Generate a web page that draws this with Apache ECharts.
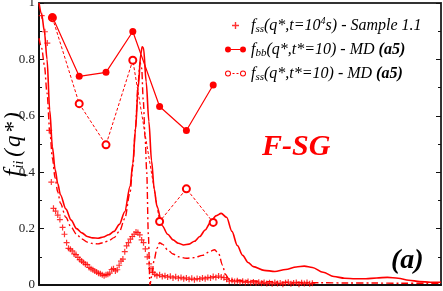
<!DOCTYPE html>
<html><head><meta charset="utf-8">
<script src="https://cdn.jsdelivr.net/npm/echarts@6/dist/echarts.min.js"></script>
<style>html,body{margin:0;padding:0;background:#fff}#c{width:443px;height:291px}</style>
</head><body><div id="c"></div>
<script>
// y-axis ticks
const yMin = 0, yMax = 1, yStep = 0.2;
const xMin = 0, xMax = 15;

// experimental f_ss (crosses)
const plusQ = [0.10,0.22,0.31,0.38,0.46,0.54,0.62,0.70,0.78,0.88,0.95,1.03,1.10,1.17,1.24,1.31,1.38,1.45,1.52,1.59,1.66,1.73,1.80,1.87,1.94,2.01,2.08,2.15,2.22,2.29,2.36,2.43,2.50,2.57,2.64,2.71,2.78,2.85,2.92,2.99,3.06,3.13,3.20,3.27,3.34,3.41,3.48,3.55,3.62,3.69,3.76,3.83,3.90,3.97,4.04,4.11,4.18,4.25,4.32,
  4.4,4.5,4.6,4.7,4.8,4.9,5.0,5.1,5.2,5.3,5.4,5.5,5.6,5.7,5.8,5.9,6.0,6.1,6.2,6.3,6.4,6.5,6.6,6.7,6.8,6.9,7.0,7.1,7.2,7.3,7.4,7.5,7.6,7.7,7.8,7.9,8.0,8.1,8.2,8.3,8.4,8.5,8.6,8.7,8.8,8.9,9.0,9.1,9.2,9.3,9.4,9.5,9.6,9.7,9.8,9.9,10.0,10.1,10.2];
const plusV = [0.955,0.898,0.858,0.548,0.365,0.272,0.262,0.248,0.232,0.204,0.180,0.150,0.130,0.127,0.121,0.110,0.108,0.098,0.090,0.085,0.080,0.074,0.072,0.062,0.058,0.054,0.050,0.046,0.042,0.040,0.036,0.033,0.036,0.038,0.042,0.055,0.058,0.050,0.054,0.070,0.085,0.092,0.118,0.139,0.150,0.163,0.172,0.180,0.188,0.186,0.178,0.160,0.150,0.128,0.100,0.075,0.058,0.045,0.038,
  0.033,0.036,0.030,0.033,0.028,0.031,0.025,0.029,0.024,0.027,0.022,0.025,0.020,0.024,0.019,0.023,0.021,0.025,0.022,0.027,0.025,0.030,0.027,0.032,0.028,0.026,0.020,0.014,0.016,0.012,0.015,0.011,0.013,0.009,0.012,0.008,0.011,0.007,0.010,0.006,0.009,0.005,0.008,0.004,0.009,0.005,0.007,0.003,0.008,0.010,0.004,0.007,0.009,0.003,0.008,0.005,0.009,0.004,0.006];

// MD points
const mdQ = [0.5,1.5,2.5,3.5,4.5,5.5,6.5];
const fbbV = [0.951,0.740,0.754,0.899,0.633,0.548,0.709];
const fssV = [0.948,0.643,0.497,0.797,0.225,0.341,0.222];

// solid theory curve
const solidQ = [0,0.1,0.2,0.3,0.4,0.5,0.6,0.7,0.8,1.0,1.2,1.4,1.6,1.8,2.0,2.2,2.4,2.6,2.8,3.0,3.2,3.4,3.5,3.6,3.7,3.8,3.85,3.9,4.0,4.1,4.2,4.3,4.4,4.6,4.8,5.0,5.2,5.4,5.6,5.8,6.0,6.2,6.4,6.6,6.8,7.0,7.2,7.4,7.6,7.8,8.0,8.4,8.8,9.2,9.6,9.9,10.2,10.6,11.0,11.4,11.8,12.2,12.6,13.0,13.4,13.8,14.2,14.6,15.0];
const solidV = [1.0,0.96,0.90,0.80,0.62,0.49,0.41,0.36,0.32,0.27,0.23,0.20,0.185,0.172,0.167,0.166,0.170,0.178,0.19,0.215,0.26,0.35,0.43,0.55,0.70,0.82,0.845,0.84,0.72,0.58,0.44,0.34,0.28,0.21,0.18,0.16,0.148,0.142,0.145,0.155,0.172,0.195,0.222,0.245,0.254,0.24,0.19,0.14,0.105,0.08,0.065,0.052,0.048,0.055,0.064,0.067,0.062,0.045,0.030,0.024,0.022,0.022,0.025,0.027,0.024,0.017,0.012,0.010,0.010];

// dash-dot theory curve
const dashQ = [0,0.1,0.2,0.3,0.4,0.5,0.6,0.7,0.8,1.0,1.2,1.4,1.6,1.8,2.0,2.2,2.4,2.6,2.8,3.0,3.2,3.4,3.5,3.6,3.7,3.77,3.83,3.89,3.96,4.02,4.08,4.14,4.2,4.3,4.4,4.5,4.6,4.8,5.0,5.2,5.5,5.8,6.1,6.4,6.55,6.7,6.85,6.95,7.1,7.6,8.5,9.5,10.5,11.5,12.5,13.5,14.5,15];
const dashV = [0.875,0.84,0.78,0.68,0.55,0.45,0.38,0.33,0.29,0.24,0.205,0.18,0.163,0.152,0.147,0.146,0.15,0.157,0.168,0.19,0.235,0.33,0.42,0.56,0.72,0.79,0.77,0.655,0.52,0.40,0.18,0.0,0.03,0.09,0.13,0.15,0.145,0.125,0.11,0.10,0.095,0.097,0.105,0.12,0.125,0.112,0.07,0.038,0.02,0.016,0.012,0.009,0.008,0.007,0.007,0.006,0.006,0.006];

const zip = (a, b) => a.map((x, i) => [x, b[i]]);
const RED = '#ff0000';
const SERIF = 'Liberation Serif';
const PLUS = 'path://M2,0H3V2H5V3H3V5H2V3H0V2H2Z';
const ICON_FILLED = 'path://M0,3.5A3,3 0 1 1 6,3.5A3,3 0 1 1 0,3.5ZM15,3.5A3,3 0 1 1 21,3.5A3,3 0 1 1 15,3.5ZM6,3H15V4H6Z';
const ICON_OPEN = 'path://M0,3.5A3,3 0 1 1 6,3.5A3,3 0 1 1 0,3.5ZM1,3.5A2,2 0 1 0 5,3.5A2,2 0 1 0 1,3.5ZM15,3.5A3,3 0 1 1 21,3.5A3,3 0 1 1 15,3.5ZM16,3.5A2,2 0 1 0 20,3.5A2,2 0 1 0 16,3.5ZM7.5,3H9.5V4H7.5ZM11.5,3H13.5V4H11.5Z';

const legendText = {
  exp: '{i|f}{sub|ss}{i|(q*,t=10}{sup|4}{i|s) - Sample 1.1}',
  fbb: '{i|f}{sub|bb}{i|(q*,t*=10) - MD }{b|(a5)}',
  fss: '{i|f}{sub|ss}{i|(q*,t*=10) - MD }{b|(a5)}'
};

const chart = echarts.init(document.getElementById('c'), null, {renderer: 'canvas'});
const axisCol = '#111';
chart.setOption({
  animation: false,
  backgroundColor: '#fff',
  grid: {left: 39, right: 2, top: 3, bottom: 6, containLabel: false, outerBoundsMode: 'none'},
  title: [
    {text: 'F-SG', left: 262, top: 132, padding: 0,
     textStyle: {fontFamily: SERIF, fontStyle: 'italic', fontWeight: 'bold', fontSize: 30, color: RED}},
    {text: '(a)', left: 391, top: 247, padding: 0,
     textStyle: {fontFamily: SERIF, fontStyle: 'italic', fontWeight: 'bold', fontSize: 28, color: '#000'}}
  ],
  legend: {
    orient: 'vertical', left: 225, top: 16, padding: 0, itemGap: 7,
    itemWidth: 21, itemHeight: 7, selectedMode: false,
    data: [
      {name: 'exp', icon: PLUS, itemStyle: {color: RED, borderWidth: 0}},
      {name: 'fbb', icon: ICON_FILLED, itemStyle: {color: RED, borderWidth: 0}},
      {name: 'fss', icon: ICON_OPEN, itemStyle: {color: RED, borderWidth: 0}}
    ],
    formatter: n => legendText[n],
    textStyle: {
      color: '#000',
      rich: {
        i: {fontFamily: SERIF, fontStyle: 'italic', fontSize: 16, color: '#000'},
        sub: {fontFamily: SERIF, fontStyle: 'italic', fontSize: 11, color: '#000', padding: [7, 0, 0, 0]},
        sup: {fontFamily: SERIF, fontStyle: 'italic', fontSize: 10, color: '#000', padding: [0, 0, 9, 0]},
        b: {fontFamily: SERIF, fontStyle: 'italic', fontWeight: 'bold', fontSize: 16, color: '#000'}
      }
    }
  },
  xAxis: [
    {type: 'value', min: xMin, max: xMax, position: 'bottom',
     axisLine: {show: true, onZero: false, lineStyle: {color: axisCol, width: 2}},
     axisTick: {show: false}, axisLabel: {show: false}, splitLine: {show: false}},
    {type: 'value', min: xMin, max: xMax, position: 'top',
     axisLine: {show: true, onZero: false, lineStyle: {color: '#333', width: 2}},
     axisTick: {show: false}, axisLabel: {show: false}, splitLine: {show: false}}
  ],
  yAxis: [
    {type: 'value', min: yMin, max: yMax, interval: yStep, position: 'left',
     name: '{f|f}{s|ii}{g|(}{g|q}{g|*}{g|)}', nameLocation: 'middle', nameGap: 12, nameRotate: 90,
     nameMoveOverlap: false,
     nameTextStyle: {rich: {
       f: {fontFamily: SERIF, fontStyle: 'italic', fontSize: 26, color: '#000', padding: [0, 1, 0, 0]},
       s: {fontFamily: SERIF, fontStyle: 'italic', fontSize: 14, color: '#000', padding: [10, 3, 0, 0]},
       g: {fontFamily: SERIF, fontStyle: 'italic', fontSize: 23, color: '#000', padding: [0, 1, 0, 1]}
     }},
     axisLine: {show: true, onZero: false, lineStyle: {color: axisCol, width: 2}},
     axisTick: {show: true, inside: true, length: 5, lineStyle: {color: axisCol, width: 1}},
     minorTick: {show: true, splitNumber: 2, length: 3, lineStyle: {color: axisCol, width: 1}},
     axisLabel: {fontFamily: SERIF, fontSize: 13, color: '#222', margin: 4},
     splitLine: {show: false}, minorSplitLine: {show: false}},
    {type: 'value', min: yMin, max: yMax, interval: yStep, position: 'right',
     axisLine: {show: true, onZero: false, lineStyle: {color: '#333', width: 2}},
     axisTick: {show: true, inside: true, length: 5, lineStyle: {color: axisCol, width: 1}},
     minorTick: {show: true, splitNumber: 2, length: 3, lineStyle: {color: axisCol, width: 1}},
     axisLabel: {show: false}, splitLine: {show: false}}
  ],
  series: [
    {name: 'solid', type: 'line', data: zip(solidQ, solidV), showSymbol: false, symbol: 'none',
     smooth: 0.3, smoothMonotone: 'x', lineStyle: {color: RED, width: 1.6}, z: 2},
    {name: 'dashdot', type: 'line', data: zip(dashQ, dashV), showSymbol: false, symbol: 'none',
     smooth: 0.3, smoothMonotone: 'x', lineStyle: {color: RED, width: 1.4, type: [7, 3, 2, 3]}, z: 2},
    {name: 'exp', type: 'scatter', data: zip(plusQ, plusV), symbol: PLUS, symbolSize: 6,
     itemStyle: {color: RED}, z: 3},
    {name: 'fss', type: 'line', data: zip(mdQ, fssV), symbol: 'emptyCircle', symbolSize: 7,
     itemStyle: {color: RED, borderWidth: 1}, lineStyle: {color: RED, width: 1, type: [3, 2]}, z: 4},
    {name: 'fbb', type: 'line', data: zip(mdQ, fbbV), symbol: 'circle', symbolSize: 7,
     itemStyle: {color: RED}, lineStyle: {color: RED, width: 1.2}, z: 5}
  ]
});
</script></body></html>
